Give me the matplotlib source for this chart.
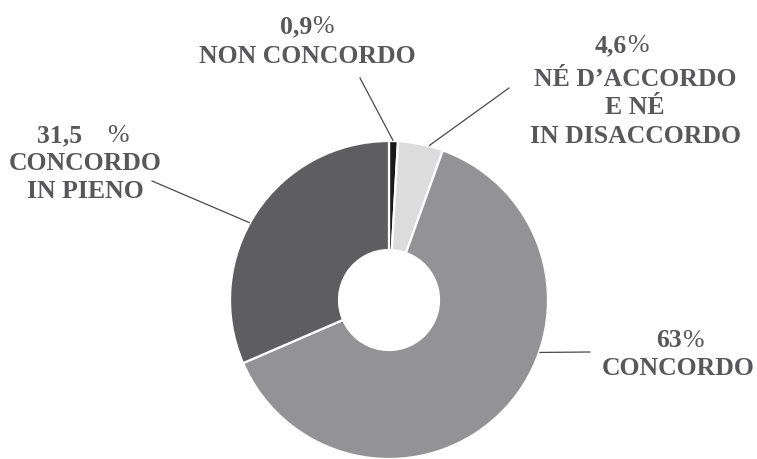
import numpy as np
import matplotlib.pyplot as plt

# survey answers, percent
labels = ["NON CONCORDO", "NÉ D\u2019ACCORDO\nE NÉ\nIN DISACCORDO", "CONCORDO", "CONCORDO\nIN PIENO"]
shares = [0.9, 4.6, 63, 31.5]
share_text = ["0,9", "4,6", "63", "31,5"]
colors = ["#19191a", "#dcdcdd", "#939396", "#5e5e60"]

W, H = 757, 459
CX, CY, R = 389, 300, 159  # pie centre / radius in pixels
text_color = "#58585a"
serif = ["Liberation Serif", "DejaVu Serif"]
fs = 18.5

fig = plt.figure(figsize=(W / 100, H / 100), dpi=100)
ax = fig.add_axes([0, 0, 1, 1])


def px(x, y):
    # pixel position (from top left) -> data units
    return (x - CX) / R, (CY - y) / R


wedges, _ = ax.pie(shares, colors=colors, startangle=90, counterclock=False,
                   radius=1, wedgeprops=dict(width=1 - 50 / R, edgecolor="white", linewidth=1.6))
ax.set_xlim(-CX / R, (W - CX) / R)
ax.set_ylim(-(H - CY) / R, CY / R)
ax.axis("off")

# where the leader line leaves each wedge, and where it ends
anchor_frac = [0.57, 0.31, 0.606, 0.538]
leader_end = [(360, 78), (509, 88), (590, 352), (152, 181)]
for w, f, end in zip(wedges, anchor_frac, leader_end):
    a = np.radians(w.theta1 + f * (w.theta2 - w.theta1))
    ex, ey = px(*end)
    ax.plot([np.cos(a) * 1.005, ex], [np.sin(a) * 1.005, ey], color="#4a4a4a", lw=0.9)

# number line: split x of number/%, baseline y, gap before %
num_pos = [(312, 33, 0), (627, 52, 0), (682, 347, 0), (82, 142, 25)]
# first baseline of the label block and its centre x
name_pos = [(307, 63), (635, 86), (678, 375), (85, 170)]
line_step = 28.3

for s, (nx, ny, gap), txt, (lx, ly) in zip(share_text, num_pos, labels, name_pos):
    ax.text(*px(nx, ny), s, ha="right", va="baseline", fontsize=fs,
            fontweight="bold", family=serif, color=text_color)
    ax.text(*px(nx + gap, ny), "%", ha="left", va="baseline", fontsize=fs,
            family=serif, color=text_color)
    for i, line in enumerate(txt.split("\n")):
        ax.text(*px(lx, ly + i * line_step), line, ha="center", va="baseline",
                fontsize=fs, fontweight="bold", family=serif, color=text_color)

fig.savefig("out.png", dpi=100)
